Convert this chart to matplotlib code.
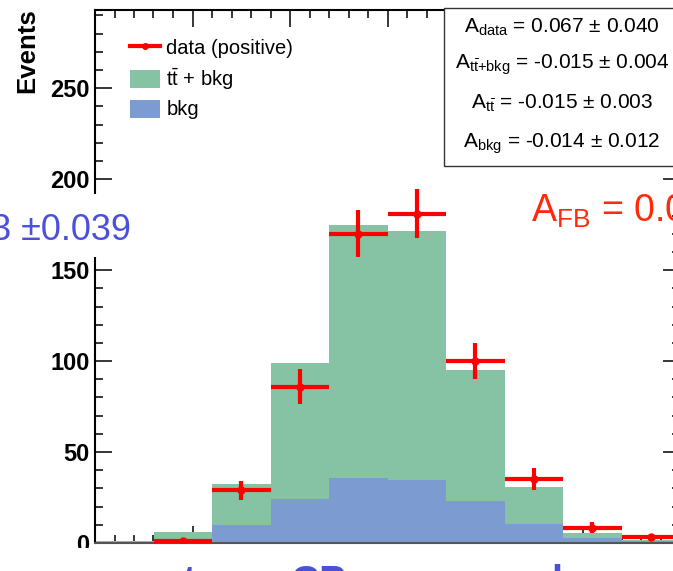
#!/usr/bin/env python3
# Stacked tt+bkg / bkg histogram with positive data overlay (ROOT-style), saved to out.png
import matplotlib
matplotlib.use("Agg")
import matplotlib.pyplot as plt
from matplotlib.lines import Line2D
from matplotlib.patches import Patch, Rectangle
import numpy as np

plt.rcParams["font.family"] = ["Liberation Sans", "DejaVu Sans"]
plt.rcParams["mathtext.fontset"] = "custom"
plt.rcParams["mathtext.rm"] = "Liberation Sans"
plt.rcParams["mathtext.it"] = "Liberation Sans"
plt.rcParams["mathtext.bf"] = "Liberation Sans:bold"

# bins and values
edges = [-3.0, -2.4, -1.8, -1.2, -0.6, 0.0, 0.6, 1.2, 1.8, 2.4, 3.0]
ttbkg = [1.0, 6.0, 32.5, 99.0, 175.0, 171.5, 95.0, 31.0, 5.5, 1.5]
bkg = [0.8, 2.2, 10.0, 24.0, 36.0, 34.5, 23.0, 10.5, 3.0, 1.0]
data = [0.0, 1.0, 29.0, 86.0, 170.0, 181.0, 100.0, 35.0, 8.5, 3.3]
data_err = [0.0, 1.0, 5.2, 9.5, 13.0, 13.5, 10.0, 6.0, 2.8, 1.0]

stats_lines = [
    r"$\mathrm{A}_{\mathrm{data}}$ = 0.067 $\pm$ 0.040",
    r"$\mathrm{A}_{t\bar{t}\mathrm{+bkg}}$ = -0.015 $\pm$ 0.004",
    r"$\mathrm{A}_{t\bar{t}}$ = -0.015 $\pm$ 0.003",
    r"$\mathrm{A}_{\mathrm{bkg}}$ = -0.014 $\pm$ 0.012",
]

GREEN = "#86c2a4"
BLUE = "#7c9bd1"
W, H = 673, 571

fig = plt.figure(figsize=(W / 100, H / 100), dpi=100)
ax = fig.add_axes([95 / W, 28 / H, 585 / W, 533 / H])

edges_a = np.array(edges)
centers = 0.5 * (edges_a[1:] + edges_a[:-1])
halfw = 0.5 * (edges_a[1:] - edges_a[:-1])

ax.stairs(ttbkg, edges, fill=True, color=GREEN, zorder=1)
ax.stairs(bkg, edges, fill=True, color=BLUE, zorder=1.1)

d = np.array(data)
m = d > 0
ax.errorbar(centers[m], d[m], xerr=halfw[m], yerr=np.array(data_err)[m], fmt="o",
            color="red", ms=5, elinewidth=3, capsize=0, zorder=3)

ax.set_xlim(-3, 3)
ax.set_ylim(0, 293)
ax.set_axisbelow(True)
ax.xaxis.set_major_locator(matplotlib.ticker.MultipleLocator(1))
ax.xaxis.set_minor_locator(matplotlib.ticker.MultipleLocator(0.2))
ax.yaxis.set_major_locator(matplotlib.ticker.MultipleLocator(50))
ax.yaxis.set_minor_locator(matplotlib.ticker.MultipleLocator(10))
ax.tick_params(which="both", direction="in", top=True, right=True, width=1.1,
               labelbottom=False)
ax.tick_params(which="major", length=12)
ax.tick_params(which="minor", length=6)
ax.tick_params(axis="y", pad=4, labelsize=17)
for lab in ax.get_yticklabels():
    lab.set_fontweight("bold")
for sp in ax.spines.values():
    sp.set_linewidth(1.5)
ax.spines["bottom"].set_color("#555555")

fig.text(27 / W, 1 - 8 / H, "Events", rotation=90, ha="center", va="top",
         fontsize=18.5, fontweight="bold")

handles = [Line2D([], [], color="red", lw=3, marker="o", ms=4),
           Patch(facecolor=GREEN, edgecolor="none"),
           Patch(facecolor=BLUE, edgecolor="none")]
labels = ["data (positive)", r"t$\bar{t}$ + bkg", "bkg"]
ax.legend(handles, labels, loc="upper left", bbox_to_anchor=(0.06, 0.948),
          frameon=False, fontsize=14.5, handlelength=1.5, handleheight=1.0,
          handletextpad=0.3, labelspacing=0.4, borderpad=0, borderaxespad=0)

# stats box
ax.add_patch(Rectangle((0.5966, 0.7073), 0.4034, 0.2967, transform=ax.transAxes,
                       facecolor="white", edgecolor="#333333", lw=1, clip_on=False, zorder=4))
for i, s in enumerate(stats_lines):
    yb = [33, 69, 109, 148][i]
    ax.text(0.798, (543 - yb) / 533, s, transform=ax.transAxes, ha="center",
            va="baseline", fontsize=15, zorder=5)

# overlays from the slide
fig.patches.append(Rectangle((0, 1 - 257 / H), 140 / W, 63 / H, transform=fig.transFigure,
                             facecolor="white", edgecolor="none", zorder=10))
fig.text(131 / W, 1 - 240 / H, "= 0.083 \u00b10.039", ha="right", va="baseline",
         fontsize=26, color="#4a50dc", zorder=11)
fig.text(531 / W, 1 - 222 / H, r"A$_{\mathrm{FB}}$ = 0.083", ha="left", va="baseline",
         fontsize=27, color="#ff2a0a", zorder=11)
fig.patches.append(Rectangle((0, 0), 1, (H - 548) / H, transform=fig.transFigure,
                             facecolor="white", edgecolor="none", zorder=10))
for x, s in [(183, "t"), (290, "CP"), (551, "l")]:
    fig.text(x / W, (H - 594) / H, s, ha="left", va="baseline", fontsize=29,
             fontweight="bold", color="#4a50dc", zorder=11)

fig.savefig("out.png", dpi=100)
